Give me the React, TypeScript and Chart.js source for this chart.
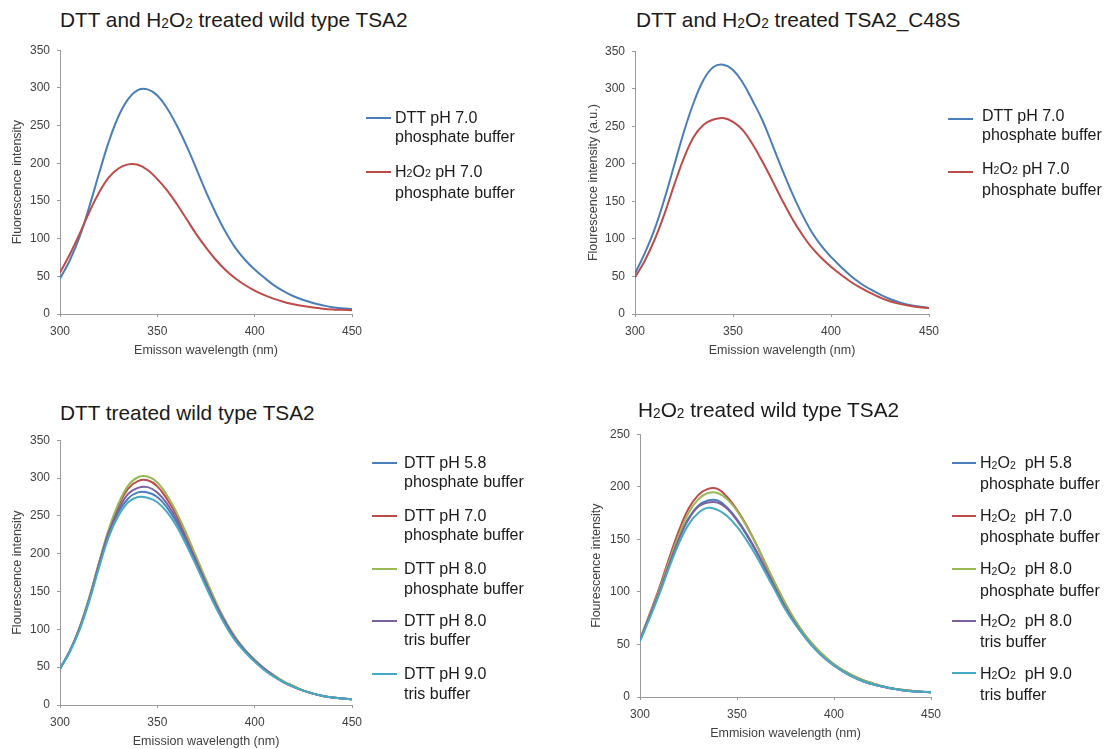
import React, { useEffect, useRef } from "react";
import { Chart, registerables } from "chart.js";

Chart.register(...registerables);

// ---------- DATA ----------
const wavelengths = [
  300, 305, 310, 315, 320, 325, 330, 335, 340, 345, 350, 355, 360, 365, 370, 375,
  380, 385, 390, 395, 400, 405, 410, 415, 420, 425, 430, 435, 440, 445, 450,
];

// Panel 1: DTT and H2O2 treated wild type TSA2
const p1Dtt = [47, 71, 102, 142, 186, 228, 262, 285, 297, 298, 290, 273, 250, 223, 193, 162, 134, 109, 88, 72, 59, 48, 38, 30, 23.5, 18.5, 14.5, 11.5, 9, 7.5, 6.5];
const p1H2o2 = [55, 79, 106, 135, 161, 181, 193, 198.5, 198, 191, 179, 164, 146, 126, 106, 88, 72, 58.5, 47.5, 38.5, 31, 25, 20, 16, 13, 10.5, 8.5, 7, 6, 5.5, 5];

// Panel 2: DTT and H2O2 treated TSA2_C48S
const p2Dtt = [54, 81, 113, 153, 198, 243, 282, 312, 329, 332, 325, 308, 284, 258, 226, 193, 162, 134, 110, 91, 76, 63, 51, 41, 33, 26, 20, 15.5, 12, 10, 8];
const p2H2o2 = [49, 71, 99, 133, 172, 208, 236, 252, 259, 261, 256, 245, 226, 203, 178, 152, 128, 107, 89, 75, 63, 52.5, 43, 35, 28, 22, 17, 13.5, 11, 9, 8];

// Panel 3: DTT treated wild type TSA2
const p3Ph58 = [48, 71, 101, 140, 185, 226, 255, 273, 281, 281, 275, 261, 241, 215, 187, 159, 131, 107, 87, 71, 58, 47, 38, 30, 24, 19, 15, 12, 10, 8.5, 7.5];
const p3Ph70 = [48, 71, 102, 141, 187, 230, 263, 286, 296, 297, 289, 272, 250, 222, 193, 163, 135, 110, 89, 72, 59, 48, 39, 31, 25, 19, 15, 12, 10, 8.5, 7.5];
const p3Ph80P = [48, 71, 102, 142, 188, 232, 266, 290, 301, 302, 294, 277, 254, 226, 196, 166, 137, 111, 90, 73, 60, 48, 39, 31, 25, 19, 15, 12, 10, 8.5, 7.5];
const p3Ph80T = [48, 71, 101, 140, 186, 228, 258, 279, 287, 288, 281, 266, 245, 218, 190, 161, 133, 109, 88, 72, 59, 48, 38, 30, 24, 19, 15, 12, 10, 8.5, 7.5];
const p3Ph90T = [48, 70, 99, 137, 181, 222, 250, 268, 275, 274, 268, 255, 236, 211, 184, 156, 129, 105, 85, 70, 57, 46, 37, 30, 24, 19, 15, 12, 10, 8.5, 7.5];

// Panel 4: H2O2 treated wild type TSA2
const p4Ph58 = [54, 77, 101, 127, 151, 170, 182, 187, 187, 180, 169, 155, 139, 121, 103, 86, 71, 58, 47, 38, 30, 24, 19, 15, 12, 10, 8, 6.5, 5.5, 5, 4.5];
const p4Ph70 = [55, 79, 104, 132, 158, 179, 192, 198, 198, 190, 178, 163, 145, 125, 106, 88, 72, 59, 48, 39, 31, 25, 20, 16, 13, 10, 8, 7, 6, 5, 4.5];
const p4Ph80P = [55, 78, 102, 129, 154, 175, 188, 194, 194, 188, 177, 162, 145, 126, 107, 89, 73, 59, 48, 39, 31, 25, 20, 16, 13, 10, 8, 7, 6, 5, 4.5];
const p4Ph80T = [54, 77, 100, 126, 150, 169, 181, 185, 185, 179, 168, 154, 138, 120, 102, 85, 70, 57, 46, 37, 30, 24, 19, 15, 12, 10, 8, 6.5, 5.5, 5, 4.5];
const p4Ph90T = [53, 75, 98, 123, 146, 164, 175, 180, 178, 172, 162, 149, 134, 117, 100, 83, 69, 57, 46, 37, 30, 24, 19, 15, 12, 10, 8, 6.5, 5.5, 5, 4.5];

const xTicks = [300, 350, 400, 450];

// ---------- STYLE ----------
const FONT = "'Liberation Sans', Arial, Helvetica, sans-serif";
const BLUE = "#4A7EBB";
const RED = "#BE4B48";
const GREEN = "#98B954";
const PURPLE = "#7D60A0";
const CYAN = "#46AAC5";
const AXIS = "#9a9a9a";
const TICK_TEXT = "#404040";
const TEXT = "#1a1a1a";

type Series = { legend: string[]; values: number[]; color: string };
type PanelCfg = {
  title: string;
  titleLeft: number;
  titleCap: number;
  yTitle: string;
  xTitle: string;
  yMax: number;
  canvasLeft: number;
  canvasTop: number;
  canvasW: number;
  canvasH: number;
  yAxisW: number;
  xAxisH: number;
  series: Series[];
  legLineX: number;
  legLineW: number;
  legTextX: number;
  legLineYs: number[];
  legTextOff: number;
  legLH: number;
};

const panels: PanelCfg[] = [
  {
    title: "DTT and H2O2 treated wild type TSA2",
    titleLeft: 60,
    titleCap: 20.5,
    yTitle: "Fluorescence intensity",
    xTitle: "Emisson wavelength (nm)",
    yMax: 350,
    canvasLeft: 10,
    canvasTop: 36,
    canvasW: 367,
    canvasH: 322,
    yAxisW: 50,
    xAxisH: 44,
    series: [
      { legend: ["DTT pH 7.0", "phosphate buffer"], values: p1Dtt, color: BLUE },
      { legend: ["H2O2 pH 7.0", "phosphate buffer"], values: p1H2o2, color: RED },
    ],
    legLineX: 366,
    legLineW: 25,
    legTextX: 395,
    legLineYs: [118, 171.5],
    legTextOff: -0.5,
    legLH: 19,
  },
  {
    title: "DTT and H2O2 treated TSA2_C48S",
    titleLeft: 636,
    titleCap: 20.7,
    yTitle: "Flourescence intensity (a.u.)",
    xTitle: "Emission wavelength (nm)",
    yMax: 350,
    canvasLeft: 586,
    canvasTop: 37,
    canvasW: 368,
    canvasH: 321,
    yAxisW: 49,
    xAxisH: 44,
    series: [
      { legend: ["DTT pH 7.0", "phosphate buffer"], values: p2Dtt, color: BLUE },
      { legend: ["H2O2 pH 7.0", "phosphate buffer"], values: p2H2o2, color: RED },
    ],
    legLineX: 948,
    legLineW: 25,
    legTextX: 982,
    legLineYs: [119, 172.3],
    legTextOff: -4,
    legLH: 19,
  },
  {
    title: "DTT treated wild type TSA2",
    titleLeft: 60,
    titleCap: 413.8,
    yTitle: "Flourescence intensity",
    xTitle: "Emission wavelength (nm)",
    yMax: 350,
    canvasLeft: 10,
    canvasTop: 426,
    canvasW: 367,
    canvasH: 323,
    yAxisW: 50,
    xAxisH: 44,
    series: [
      { legend: ["DTT pH 5.8", "phosphate buffer"], values: p3Ph58, color: BLUE },
      { legend: ["DTT pH 7.0", "phosphate buffer"], values: p3Ph70, color: RED },
      { legend: ["DTT pH 8.0", "phosphate buffer"], values: p3Ph80P, color: GREEN },
      { legend: ["DTT pH 8.0", "tris buffer"], values: p3Ph80T, color: PURPLE },
      { legend: ["DTT pH 9.0", "tris buffer"], values: p3Ph90T, color: CYAN },
    ],
    legLineX: 372,
    legLineW: 25,
    legTextX: 404,
    legLineYs: [462.7, 515.7, 569, 620.7, 674],
    legTextOff: 0,
    legLH: 19.5,
  },
  {
    title: "H2O2 treated wild type TSA2",
    titleLeft: 638,
    titleCap: 410.5,
    yTitle: "Flourescence intensity",
    xTitle: "Emmision wavelength (nm)",
    yMax: 250,
    canvasLeft: 589,
    canvasTop: 420,
    canvasW: 367,
    canvasH: 321,
    yAxisW: 51,
    xAxisH: 44,
    series: [
      { legend: ["H2O2  pH 5.8", "phosphate buffer"], values: p4Ph58, color: BLUE },
      { legend: ["H2O2  pH 7.0", "phosphate buffer"], values: p4Ph70, color: RED },
      { legend: ["H2O2  pH 8.0", "phosphate buffer"], values: p4Ph80P, color: GREEN },
      { legend: ["H2O2  pH 8.0", "tris buffer"], values: p4Ph80T, color: PURPLE },
      { legend: ["H2O2  pH 9.0", "tris buffer"], values: p4Ph90T, color: CYAN },
    ],
    legLineX: 952,
    legLineW: 24,
    legTextX: 980,
    legLineYs: [462.7, 515.7, 569, 620.7, 673.3],
    legTextOff: 0,
    legLH: 19.5,
  },
];

const subStyle: React.CSSProperties = {
  fontSize: "0.66em",
  position: "relative",
  top: "0.06em",
};

function Chem({ text }: { text: string }) {
  const parts = text.split(/(H2O2)/);
  return (
    <>
      {parts.map((p, i) =>
        p === "H2O2" ? (
          <span key={i}>
            H<span style={subStyle}>2</span>O<span style={subStyle}>2</span>
          </span>
        ) : (
          <span key={i}>{p}</span>
        )
      )}
    </>
  );
}

function Panel({ cfg }: { cfg: PanelCfg }) {
  const ref = useRef<HTMLCanvasElement>(null);

  useEffect(() => {
    if (!ref.current) return;
    const n = cfg.series.length;
    const chart = new Chart(ref.current, {
      type: "line",
      data: {
        datasets: cfg.series.map((s, idx) => ({
          label: s.legend.join(" "),
          data: wavelengths.map((x, i) => ({ x, y: s.values[i] })),
          borderColor: s.color,
          backgroundColor: s.color,
          borderWidth: 2,
          pointRadius: 0,
          tension: 0.4,
          fill: false,
          order: n - idx,
        })),
      },
      options: {
        responsive: false,
        animation: false,
        events: [],
        layout: { padding: { top: 10, right: 25, left: 0, bottom: 0 } },
        plugins: {
          legend: { display: false },
          tooltip: { enabled: false },
          title: { display: false },
        },
        scales: {
          x: {
            type: "linear",
            min: 300,
            max: 450,
            afterBuildTicks: (scale: any) => {
              scale.ticks = xTicks.map((v) => ({ value: v }));
            },
            afterFit: (scale: any) => {
              scale.height = cfg.xAxisH;
            },
            ticks: {
              font: { family: FONT, size: 12 },
              color: TICK_TEXT,
              padding: 7,
              maxRotation: 0,
            },
            grid: {
              drawOnChartArea: false,
              drawTicks: true,
              tickLength: 3,
              color: AXIS,
            },
            border: { display: true, color: AXIS, width: 1 },
            title: {
              display: true,
              text: cfg.xTitle,
              font: { family: FONT, size: 12.5 },
              color: TICK_TEXT,
              padding: 0,
            },
          },
          y: {
            type: "linear",
            min: 0,
            max: cfg.yMax,
            afterFit: (scale: any) => {
              scale.width = cfg.yAxisW;
            },
            ticks: {
              stepSize: 50,
              font: { family: FONT, size: 12 },
              color: TICK_TEXT,
              padding: 7,
            },
            grid: {
              drawOnChartArea: false,
              drawTicks: true,
              tickLength: 3,
              color: AXIS,
            },
            border: { display: true, color: AXIS, width: 1 },
            title: {
              display: true,
              text: cfg.yTitle,
              font: { family: FONT, size: 12.5 },
              color: TICK_TEXT,
              padding: 0,
            },
          },
        },
      },
    } as any);
    return () => chart.destroy();
  }, [cfg]);

  return (
    <>
      <canvas
        ref={ref}
        width={cfg.canvasW}
        height={cfg.canvasH}
        style={{
          position: "absolute",
          left: cfg.canvasLeft,
          top: cfg.canvasTop,
          width: cfg.canvasW,
          height: cfg.canvasH,
        }}
      />
      <div
        style={{
          position: "absolute",
          left: cfg.titleLeft,
          top: cfg.titleCap - 10.4,
          fontFamily: FONT,
          fontSize: 20.8,
          lineHeight: "20.8px",
          color: TEXT,
          whiteSpace: "nowrap",
        }}
      >
        <Chem text={cfg.title} />
      </div>
      {cfg.series.map((s, i) => {
        const ly = cfg.legLineYs[i];
        return (
          <React.Fragment key={i}>
            <div
              style={{
                position: "absolute",
                left: cfg.legLineX,
                top: Math.round(ly) - 1,
                width: cfg.legLineW,
                height: 2,
                background: s.color,
              }}
            />
            <div
              style={{
                position: "absolute",
                left: cfg.legTextX,
                top: ly + cfg.legTextOff - cfg.legLH / 2,
                fontFamily: FONT,
                fontSize: 16,
                lineHeight: `${cfg.legLH}px`,
                color: TEXT,
                whiteSpace: "pre",
              }}
            >
              {s.legend.map((line, j) => (
                <div key={j}>
                  <Chem text={line} />
                </div>
              ))}
            </div>
          </React.Fragment>
        );
      })}
    </>
  );
}

export default function App() {
  return (
    <div
      style={{
        position: "fixed",
        left: 0,
        top: 0,
        width: 1108,
        height: 749,
        overflow: "hidden",
        background: "#ffffff",
      }}
    >
      {panels.map((p, i) => (
        <Panel key={i} cfg={p} />
      ))}
    </div>
  );
}
